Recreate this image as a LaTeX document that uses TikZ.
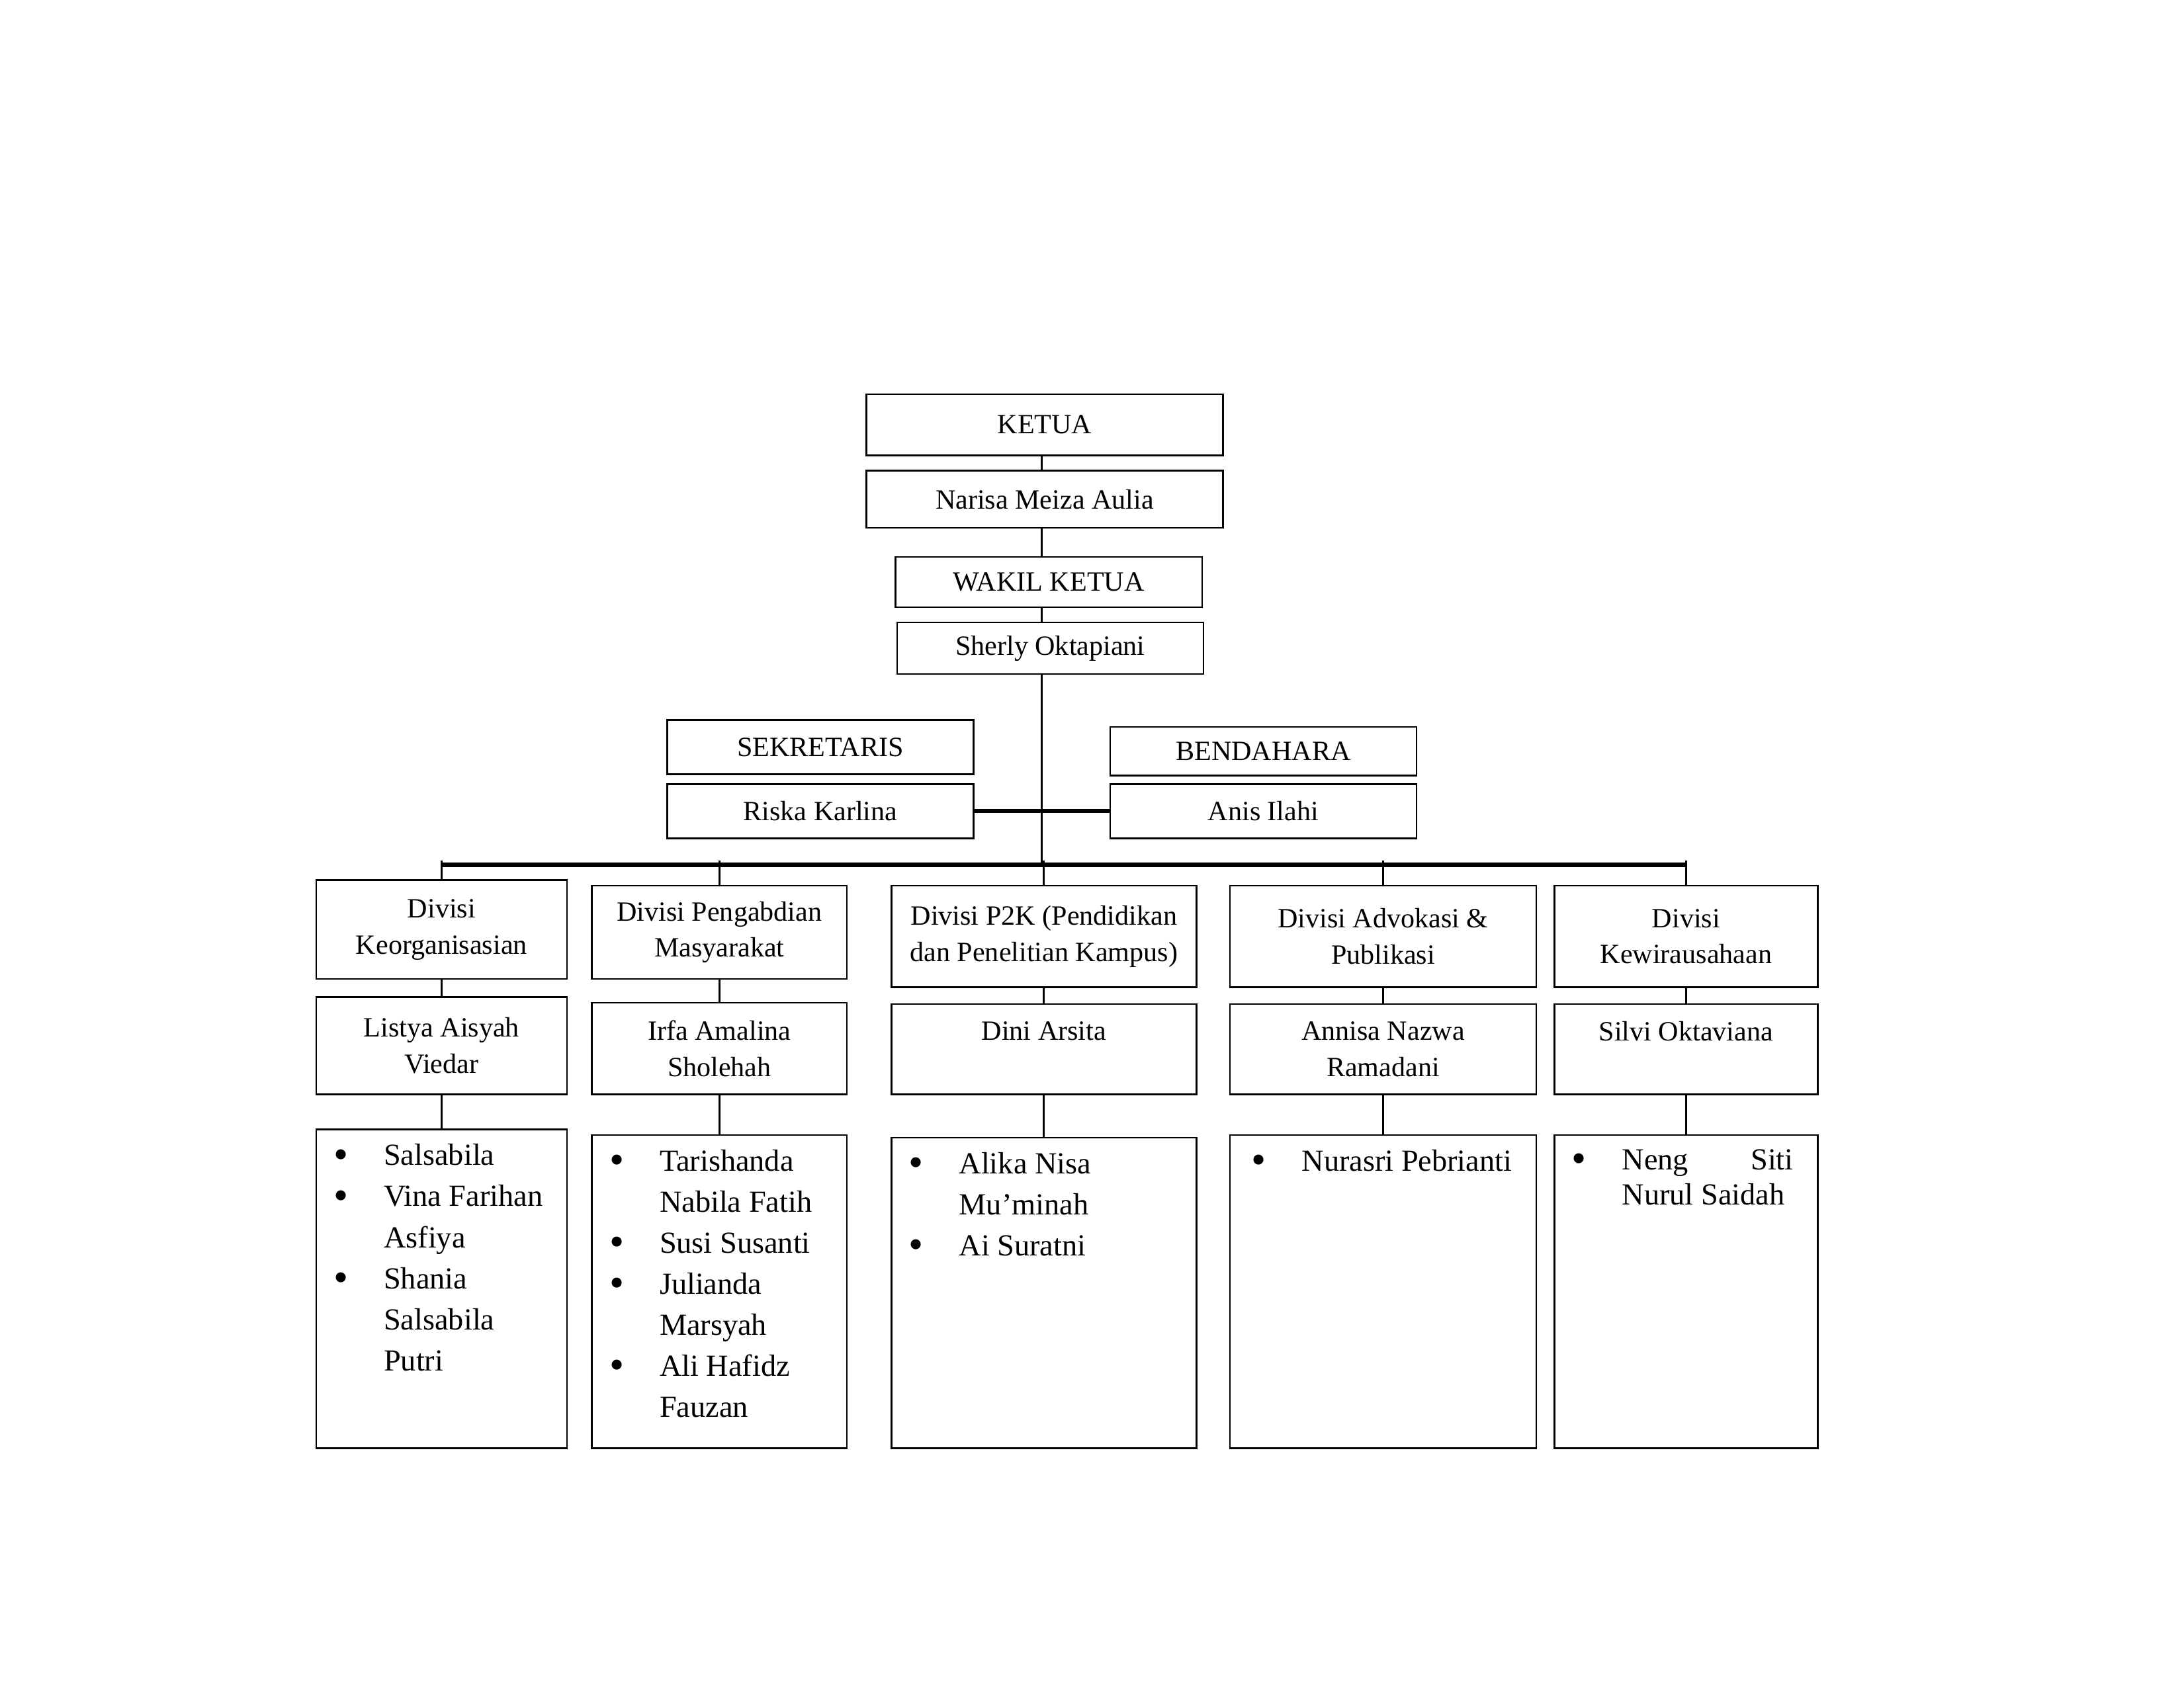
\documentclass[tikz,border=0pt]{standalone}
\usepackage{fontspec}
\setmainfont{Liberation Serif}
\newcommand{\bul}{\makebox[36pt][l]{\raisebox{-2pt}{\fontsize{30}{30}\selectfont\textbullet}}}
\newcommand{\ind}{\hspace*{36pt}}
\tikzset{
  box/.style={draw, line width=1.2pt, fill=white, inner sep=2pt, align=center,
    font=\fontsize{20}{26}\selectfont},
  members/.style={anchor=north west, inner xsep=13pt, inner ysep=11pt, align=left,
    font=\fontsize{22}{29.5}\selectfont},
  link/.style={line width=1.5pt},
  bar/.style={line width=3pt}
}
\begin{document}
\begin{tikzpicture}[x=1pt, y=-1pt]
    \useasboundingbox (0,0) rectangle (1568,1212);

    % pimpinan
    \node[box, minimum width=256pt, minimum height=44pt] (ketua) at (750,305) {KETUA};
    \node[box, minimum width=256pt, minimum height=41pt] (narisa) at (750,358.5) {Narisa Meiza Aulia};
    \node[box, minimum width=220pt, minimum height=36pt] (wakil) at (753,418) {WAKIL KETUA};
    \node[box, minimum width=220pt, minimum height=37pt] (sherly) at (754,465.5) {Sherly Oktapiani};

    \node[box, minimum width=220pt, minimum height=39pt] (sekre) at (589,536.5) {SEKRETARIS};
    \node[box, minimum width=220pt, minimum height=39pt] (riska) at (589,582.5) {Riska Karlina};
    \node[box, minimum width=220pt, minimum height=35pt] (benda) at (907,539.5) {BENDAHARA};
    \node[box, minimum width=220pt, minimum height=39pt] (anis) at (907,582.5) {Anis Ilahi};

    \coordinate (trunk) at (748,621);

    % divisi
    \node[box, minimum width=180pt, minimum height=71pt] (d1) at (317,667.5) {Divisi\\Keorganisasian};
    \node[box, minimum width=183pt, minimum height=67pt] (d2) at (516.5,669.5) {Divisi Pengabdian\\Masyarakat};
    \node[box, minimum width=219pt, minimum height=73pt] (d3) at (749.5,672.5) {Divisi P2K (Pendidikan\\dan Penelitian Kampus)};
    \node[box, minimum width=220pt, minimum height=73pt] (d4) at (993,672.5) {Divisi Advokasi \&\\Publikasi};
    \node[box, minimum width=189pt, minimum height=73pt] (d5) at (1210.5,672.5) {Divisi\\Kewirausahaan};

    % kepala divisi
    \node[box, minimum width=180pt, minimum height=70pt] (n1) at (317,751) {Listya Aisyah\\Viedar};
    \node[box, minimum width=183pt, minimum height=66pt] (n2) at (516.5,753) {Irfa Amalina\\Sholehah};
    \node[box, minimum width=219pt, minimum height=65pt] (n3) at (749.5,753.5) {Dini Arsita\\ \mbox{}};
    \node[box, minimum width=220pt, minimum height=65pt] (n4) at (993,753.5) {Annisa Nazwa\\Ramadani};
    \node[box, minimum width=189pt, minimum height=65pt] (n5) at (1210.5,753.5) {Silvi Oktaviana\\ \mbox{}};

    % anggota
    \node[box, minimum width=180pt, minimum height=229pt] (m1) at (317,925.5) {};
    \node[box, minimum width=183pt, minimum height=225pt] (m2) at (516.5,927.5) {};
    \node[box, minimum width=219pt, minimum height=223pt] (m3) at (749.5,928.5) {};
    \node[box, minimum width=220pt, minimum height=225pt] (m4) at (993,927.5) {};
    \node[box, minimum width=189pt, minimum height=225pt] (m5) at (1210.5,927.5) {};

    \node[members] (m1list) at (m1.north west) {\bul Salsabila\\ \bul Vina Farihan\\ \ind Asfiya\\
        \bul Shania\\ \ind Salsabila\\ \ind Putri};
    \node[members] (m2list) at (m2.north west) {\bul Tarishanda\\ \ind Nabila Fatih\\ \bul Susi Susanti\\
        \bul Julianda\\ \ind Marsyah\\ \bul Ali Hafidz\\ \ind Fauzan};
    \node[members] (m3list) at (m3.north west) {\bul Alika Nisa\\ \ind Mu'minah\\ \bul Ai Suratni};
    \node[members, inner xsep=16pt] (m4list) at (m4.north west) {\bul Nurasri Pebrianti};
    \node[members] (m5list) at (m5.north west) {\bul \makebox[123pt]{Neng\hfill Siti}\\[-4.5pt]
        \ind Nurul Saidah};

    % garis
    \foreach \a/\b in {ketua/narisa, narisa/wakil, wakil/sherly}
        \draw[link] (\a.south -| trunk) -- (\b.north -| trunk);
    \draw[link] (sherly.south -| trunk) -- (trunk);
    \draw[bar] (riska.east) -- (anis.west);
    \draw[bar] (d1.north |- trunk) -- (d5.north |- trunk);
    \foreach \i in {1,...,5} {
        \draw[link] ([yshift=3pt]d\i.north |- trunk) -- (d\i.north);
        \draw[link] (d\i.south) -- (n\i.north);
        \draw[link] (n\i.south) -- (m\i.north);
    }
\end{tikzpicture}
\end{document}
